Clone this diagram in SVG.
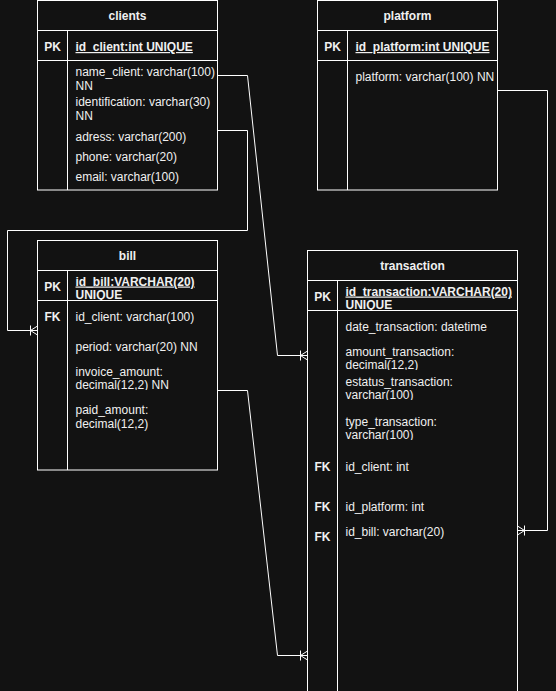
<svg xmlns="http://www.w3.org/2000/svg" width="556" height="691" viewBox="0 0 556 691">
  <style>
    .tbl { fill: #121212; stroke: #ffffff; stroke-width: 1; }
    .ln { stroke: #ffffff; stroke-width: 1; fill: none; }
    text { font-family: "Liberation Sans", Arial, sans-serif; font-size: 12px; fill: #f0f0f0; }
    .hd { font-weight: bold; text-anchor: middle; }
    .key { font-weight: bold; text-anchor: middle; }
    .pk { font-weight: bold; text-decoration: underline; }
    .edge { stroke: #ffffff; stroke-width: 1; fill: none; marker-end: url(#oneToMany); }
  </style>
  <defs>
    <!-- crow's foot with bar: one or many -->
    <marker id="oneToMany" markerUnits="userSpaceOnUse" viewBox="-10 -7 12 14" refX="0" refY="0" markerWidth="12" markerHeight="14" orient="auto" overflow="visible">
      <path d="M-7,-5 V5 M-7,0 L0,-4.5 M-7,0 L0,4.5" fill="none" stroke="#ffffff" stroke-width="1"/>
    </marker>
    <clipPath id="clipBillPk" clipPathUnits="userSpaceOnUse"><rect x="68" y="271" width="149" height="29"/></clipPath>
    <clipPath id="clipBillInv" clipPathUnits="userSpaceOnUse"><rect x="68" y="360" width="149" height="30"/></clipPath>
    <clipPath id="clipTrPk" clipPathUnits="userSpaceOnUse"><rect x="338" y="281" width="179" height="29"/></clipPath>
    <clipPath id="clipTrAmt" clipPathUnits="userSpaceOnUse"><rect x="338" y="340" width="179" height="30"/></clipPath>
    <clipPath id="clipTrSt" clipPathUnits="userSpaceOnUse"><rect x="338" y="370" width="179" height="30"/></clipPath>
    <clipPath id="clipTrTy" clipPathUnits="userSpaceOnUse"><rect x="338" y="410" width="179" height="30"/></clipPath>
  </defs>

  <rect x="0" y="0" width="556" height="691" fill="#121212"/>

  <!-- relationships -->
  <g id="connectors">
    <path class="edge" d="M217.5,75.5 H247.5 L277.5,355.5 H307.5"/>
    <path class="edge" d="M217.5,130.5 H247.5 V230.5 H7.5 V330.5 H37.5"/>
    <path class="edge" d="M217.5,390.5 H247.5 L277.5,655.5 H307.5"/>
    <path class="edge" d="M497.5,90.5 H547.5 V530.5 H517.5"/>
  </g>

  <!-- clients -->
  <g id="clients">
    <rect class="tbl" x="37.5" y="0.5" width="180" height="189.5"/>
    <path class="ln" d="M37.5,30.5 H217.5 M37.5,60.5 H217.5 M67.5,30.5 V190"/>
    <text class="hd" x="127.5" y="20">clients</text>
    <text class="key" x="52.5" y="51">PK</text>
    <text class="pk" x="75.5" y="51">id_client:int UNIQUE</text>
    <text x="75.5" y="75.5">name_client: varchar(100)</text>
    <text x="75.5" y="89.5">NN</text>
    <text x="75.5" y="105.5">identification: varchar(30)</text>
    <text x="75.5" y="119.5">NN</text>
    <text x="75.5" y="140.5">adress: varchar(200)</text>
    <text x="75.5" y="160.5">phone: varchar(20)</text>
    <text x="75.5" y="180.5">email: varchar(100)</text>
  </g>

  <!-- platform -->
  <g id="platform">
    <rect class="tbl" x="317.5" y="0.5" width="180" height="189.5"/>
    <path class="ln" d="M317.5,30.5 H497.5 M317.5,60.5 H497.5 M347.5,30.5 V190"/>
    <text class="hd" x="407.5" y="20">platform</text>
    <text class="key" x="332.5" y="51">PK</text>
    <text class="pk" x="355.5" y="51">id_platform:int UNIQUE</text>
    <text x="355.5" y="80.5">platform: varchar(100) NN</text>
  </g>

  <!-- bill -->
  <g id="bill">
    <rect class="tbl" x="37.5" y="240.5" width="180" height="229.5"/>
    <path class="ln" d="M37.5,270.5 H217.5 M37.5,300.5 H217.5 M67.5,270.5 V470"/>
    <text class="hd" x="127.5" y="260">bill</text>
    <text class="key" x="52.5" y="290.5">PK</text>
    <g clip-path="url(#clipBillPk)">
      <text class="pk" x="75.5" y="285.5">id_bill:VARCHAR(20)</text>
      <text class="pk" x="75.5" y="299">UNIQUE</text>
    </g>
    <text class="key" x="52.5" y="320.5">FK</text>
    <text x="75.5" y="320.5">id_client: varchar(100)</text>
    <text x="75.5" y="350.5">period: varchar(20) NN</text>
    <g clip-path="url(#clipBillInv)">
      <text x="75.5" y="375.5">invoice_amount:</text>
      <text x="75.5" y="389">decimal(12,2) NN</text>
    </g>
    <text x="75.5" y="413.5">paid_amount:</text>
    <text x="75.5" y="428">decimal(12,2)</text>
  </g>

  <!-- transaction -->
  <g id="transaction">
    <rect class="tbl" x="307.5" y="250.5" width="210" height="460"/>
    <path class="ln" d="M307.5,280.5 H517.5 M307.5,310.5 H517.5 M337.5,280.5 V710"/>
    <text class="hd" x="412.5" y="270">transaction</text>
    <text class="key" x="322.5" y="300.5">PK</text>
    <g clip-path="url(#clipTrPk)">
      <text class="pk" x="345.5" y="295.5">id_transaction:VARCHAR(20)</text>
      <text class="pk" x="345.5" y="309">UNIQUE</text>
    </g>
    <text x="345.5" y="330.5">date_transaction: datetime</text>
    <g clip-path="url(#clipTrAmt)">
      <text x="345.5" y="355.5">amount_transaction:</text>
      <text x="345.5" y="369">decimal(12,2)</text>
    </g>
    <g clip-path="url(#clipTrSt)">
      <text x="345.5" y="385.5">estatus_transaction:</text>
      <text x="345.5" y="399">varchar(100)</text>
    </g>
    <g clip-path="url(#clipTrTy)">
      <text x="345.5" y="425.5">type_transaction:</text>
      <text x="345.5" y="439">varchar(100)</text>
    </g>
    <text class="key" x="322.5" y="470.5">FK</text>
    <text x="345.5" y="470.5">id_client: int</text>
    <text class="key" x="322.5" y="510.5">FK</text>
    <text x="345.5" y="510.5">id_platform: int</text>
    <text class="key" x="322.5" y="540.5">FK</text>
    <text x="345.5" y="535.5">id_bill: varchar(20)</text>
  </g>
</svg>
